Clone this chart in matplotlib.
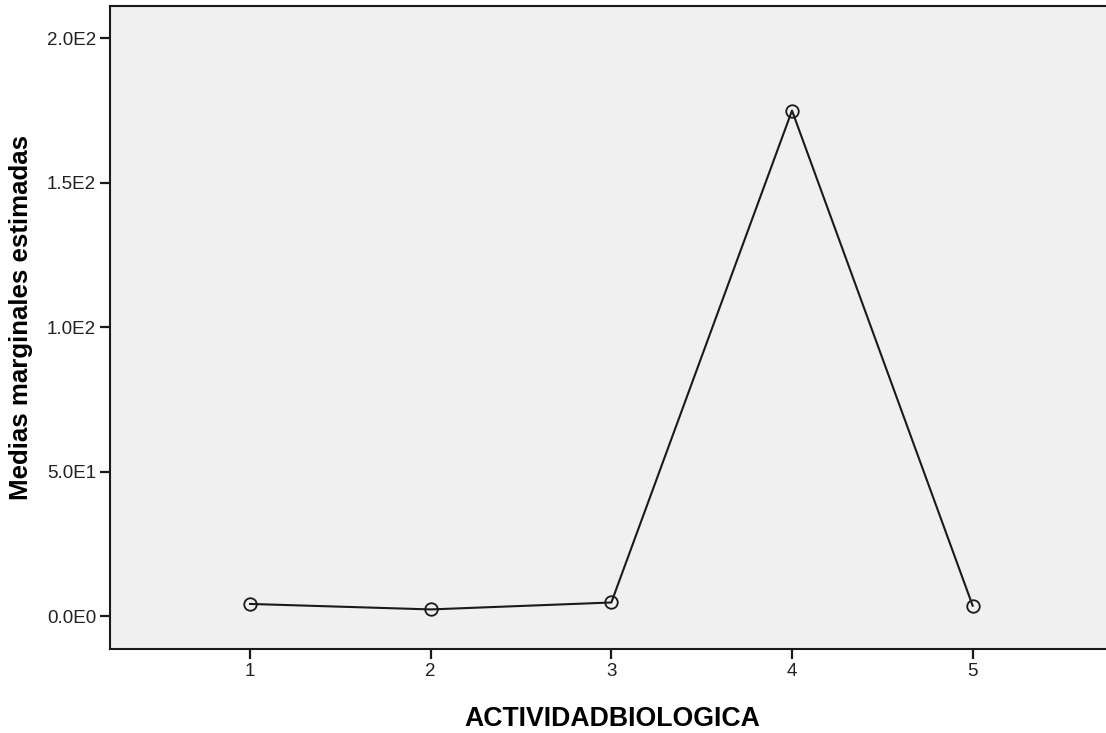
import matplotlib
matplotlib.use("Agg")
import matplotlib.pyplot as plt

# valores
categorias = [1, 2, 3, 4, 5]
medias = [4.2, 2.3, 4.7, 175.0, 3.6]
yticks = [0, 50, 100, 150, 200]
ytick_labels = ["0.0E0", "5.0E1", "1.0E2", "1.5E2", "2.0E2"]

plt.rcParams['font.family'] = ['Liberation Sans', 'DejaVu Sans']

fig = plt.figure(figsize=(11.06, 7.33), dpi=100)
ax = fig.add_axes([110/1106, 84/733, 996/1106, 643/733])
ax.set_facecolor('#F0F0F0')

ax.plot(categorias, medias, color='#1a1a1a', lw=1.5,
        marker='o', markersize=9, markerfacecolor='none',
        markeredgecolor='#1a1a1a', markeredgewidth=1.3)

ax.set_xlim(0.225, 5.738)
ax.set_ylim(-11.4, 211.2)
ax.set_xticks(categorias)
ax.set_xticklabels([str(c) for c in categorias])
ax.set_yticks(yticks)
ax.set_yticklabels(ytick_labels)

ax.tick_params(axis='both', length=7, width=1.6, color='#1a1a1a',
               labelsize=13.5, labelcolor='#222222', pad=3)

for s in ['left', 'bottom', 'top']:
    ax.spines[s].set_linewidth(1.5)
    ax.spines[s].set_color('#1a1a1a')
ax.spines['right'].set_visible(False)

ax.set_xlabel('ACTIVIDADBIOLOGICA', fontsize=19.2, fontweight='bold')
ax.set_ylabel('Medias marginales estimadas', fontsize=18.6, fontweight='bold')
ax.xaxis.set_label_coords(0.5045, -0.0885)
ax.yaxis.set_label_coords(-0.0773, 0.516)

fig.savefig('out.png', dpi=100)
